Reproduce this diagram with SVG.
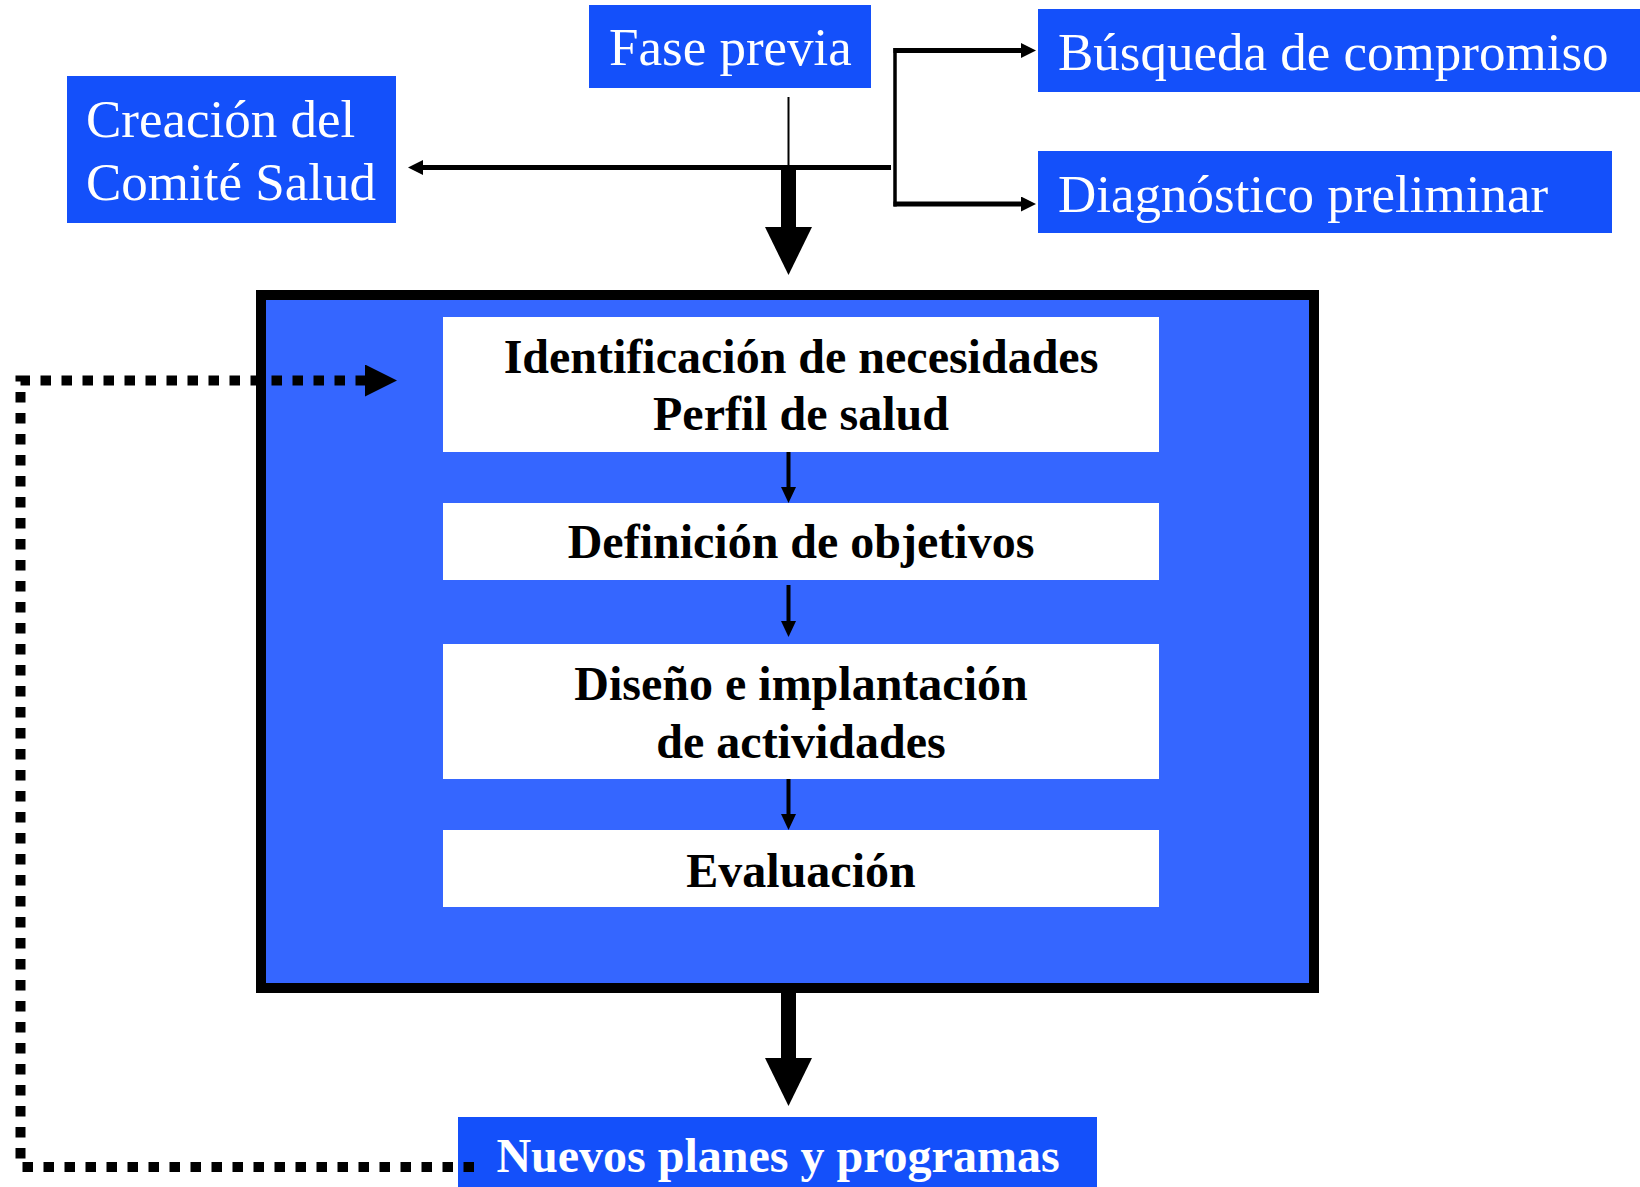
<svg xmlns="http://www.w3.org/2000/svg" width="1640" height="1187" viewBox="0 0 1640 1187">
<style>
.top{fill:#1450FA}
.lbl{font-family:"Liberation Serif","Times New Roman",serif;font-size:53px;fill:#fff}
.step{fill:#fff}
.stxt{font-family:"Liberation Serif","Times New Roman",serif;font-size:48px;font-weight:bold;fill:#000;text-anchor:middle}
.ln{fill:none;stroke:#000}
</style>
<defs>
<marker id="big" markerUnits="userSpaceOnUse" viewBox="0 0 48 47" refX="0" refY="23.5" markerWidth="48" markerHeight="47" orient="auto"><path d="M0,0 L48,23.5 L0,47 z" fill="#000"/></marker>
<marker id="small" markerUnits="userSpaceOnUse" viewBox="0 0 16 15" refX="0" refY="7.5" markerWidth="16" markerHeight="15" orient="auto"><path d="M0,0 L16,7.5 L0,15 z" fill="#000"/></marker>
<marker id="tiny" markerUnits="userSpaceOnUse" viewBox="0 0 15 15" refX="0" refY="7.5" markerWidth="15" markerHeight="15" orient="auto"><path d="M0,0 L15,7.5 L0,15 z" fill="#000"/></marker>
<marker id="dot" markerUnits="userSpaceOnUse" viewBox="0 0 32 32" refX="0" refY="16" markerWidth="32" markerHeight="32" orient="auto"><path d="M0,0 L32,16 L0,32 z" fill="#000"/></marker>
</defs>
<rect width="1640" height="1187" fill="#fff"/>

<g id="main-box">
<rect x="261" y="295" width="1053" height="693" fill="#3566FF" stroke="#000" stroke-width="10"/>
</g>

<g id="fase-previa">
<rect class="top" x="589" y="5" width="282" height="83"/>
<text class="lbl" x="609" y="65">Fase previa</text>
</g>
<g id="creacion">
<rect class="top" x="67" y="76" width="329" height="147"/>
<text class="lbl" x="86" y="137">Creación del</text>
<text class="lbl" x="86" y="200">Comité Salud</text>
</g>
<g id="busqueda">
<rect class="top" x="1038" y="9" width="602" height="83"/>
<text class="lbl" x="1058" y="70">Búsqueda de compromiso</text>
</g>
<g id="diagnostico">
<rect class="top" x="1038" y="151" width="574" height="82"/>
<text class="lbl" x="1058" y="212">Diagnóstico preliminar</text>
</g>

<g id="identificacion">
<rect class="step" x="443" y="317" width="716" height="135"/>
<text class="stxt" x="801" y="373">Identificación de necesidades</text>
<text class="stxt" x="801" y="430">Perfil de salud</text>
</g>
<g id="definicion">
<rect class="step" x="443" y="503" width="716" height="77"/>
<text class="stxt" x="801" y="558">Definición de objetivos</text>
</g>
<g id="diseno">
<rect class="step" x="443" y="644" width="716" height="135"/>
<text class="stxt" x="801" y="700">Diseño e implantación</text>
<text class="stxt" x="801" y="758">de actividades</text>
</g>
<g id="evaluacion">
<rect class="step" x="443" y="830" width="716" height="77"/>
<text class="stxt" x="801" y="887">Evaluación</text>
</g>
<g id="nuevos">
<rect class="top" x="458" y="1117" width="639" height="70"/>
<text class="stxt" x="778" y="1172" style="fill:#fff">Nuevos planes y programas</text>
</g>

<g id="connectors">
<line class="ln" x1="788.5" y1="97" x2="788.5" y2="166" stroke-width="2"/>
<line class="ln" x1="891" y1="167.5" x2="423" y2="167.5" stroke-width="5" marker-end="url(#tiny)"/>
<line class="ln" x1="895" y1="48" x2="895" y2="206.5" stroke-width="3.5"/>
<path class="ln" d="M893.5,50.5 H1021" stroke-width="5" marker-end="url(#tiny)"/>
<path class="ln" d="M893.5,204 H1021" stroke-width="5" marker-end="url(#tiny)"/>
<line class="ln" x1="788.5" y1="168" x2="788.5" y2="227" stroke-width="15" marker-end="url(#big)"/>
<line class="ln" x1="788.5" y1="993" x2="788.5" y2="1058" stroke-width="15" marker-end="url(#big)"/>
<line class="ln" x1="788.5" y1="452" x2="788.5" y2="487" stroke-width="4" marker-end="url(#small)"/>
<line class="ln" x1="788.5" y1="585" x2="788.5" y2="621" stroke-width="4" marker-end="url(#small)"/>
<line class="ln" x1="788.5" y1="779" x2="788.5" y2="814" stroke-width="4" marker-end="url(#small)"/>
<path class="ln" d="M474,1167 H20.5 V380.5 H365" stroke-width="10" stroke-dasharray="10.5 10.5" marker-end="url(#dot)"/>
</g>
</svg>
